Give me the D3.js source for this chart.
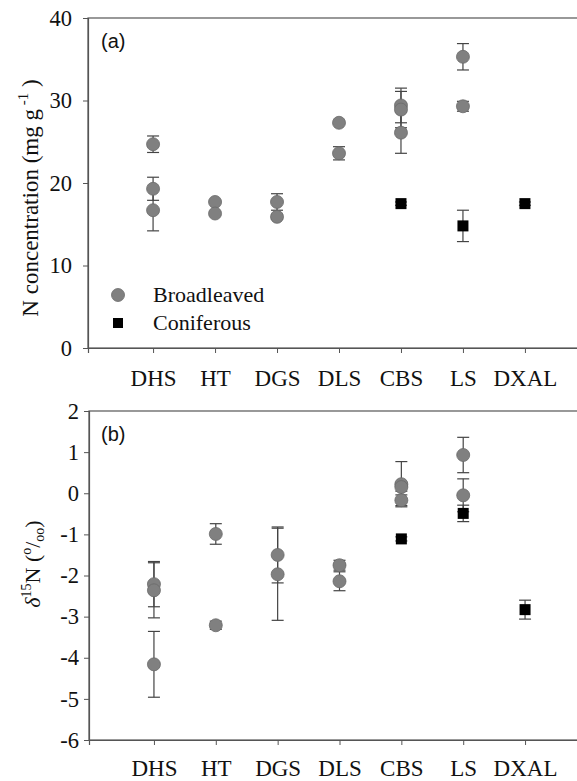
<!DOCTYPE html>
<html><head><meta charset="utf-8">
<script src="https://cdn.jsdelivr.net/npm/d3@7"></script>
<style>
html,body{margin:0;padding:0;background:#fff;}
svg{display:block;}
svg text{font-family:"Liberation Serif","Times New Roman",serif;}
svg text.sans{font-family:"Liberation Sans",Arial,sans-serif;}
</style></head>
<body>
<svg id="chart" width="577" height="781"></svg>
<script>
// ---------- DATA ----------
const categories = ["DHS","HT","DGS","DLS","CBS","LS","DXAL"];

// Panel (a): N concentration (mg g-1)
const nBroadCat = ["DHS","DHS","DHS","HT","HT","DGS","DGS","DLS","DLS","CBS","CBS","CBS","LS","LS"];
const nBroadVal = [24.7,19.3,16.7,17.7,16.3,17.7,15.9,27.3,23.6,29.4,28.9,26.1,35.3,29.3];
const nBroadErr = [1.0,1.4,2.5,0.2,0.2,1.0,0.3,0.2,0.8,2.1,2.2,2.5,1.6,0.6];
const nConCat = ["CBS","LS","DXAL"];
const nConVal = [17.5,14.8,17.5];
const nConErr = [0.2,1.9,0.2];
const nTicks = [0,10,20,30,40];

// Panel (b): delta 15N (per mil)
const dBroadCat = ["DHS","DHS","DHS","HT","HT","DGS","DGS","DLS","DLS","CBS","CBS","CBS","LS","LS"];
const dBroadVal = [-2.21,-2.36,-4.16,-0.99,-3.21,-1.50,-1.97,-1.75,-2.14,0.22,0.15,-0.17,0.93,-0.05];
const dBroadErr = [0.55,0.67,0.80,0.25,0.10,0.68,1.12,0.12,0.23,0.55,0.10,0.13,0.43,0.40];
const dConCat = ["CBS","LS","DXAL"];
const dConVal = [-1.11,-0.49,-2.83];
const dConErr = [0.05,0.20,0.23];
const dTicks = [-6,-5,-4,-3,-2,-1,0,1,2];

// ---------- DRAW ----------
const svg = d3.select("#chart");
const axisColor = "#555";
const fmt = d => String(d); // plain hyphen minus

function panel(opt){
  const g = svg.append("g");
  const x = d3.scalePoint().domain(categories).range([opt.left, 590]).padding(1.05);
  const y = d3.scaleLinear().domain(opt.domain).range([opt.bottom, opt.top]);

  g.append("rect").attr("x",opt.left).attr("y",opt.top)
    .attr("width",590-opt.left).attr("height",opt.bottom-opt.top)
    .attr("fill","none").attr("stroke",axisColor).attr("stroke-width",1.2);

  const ya = g.append("g").attr("transform",`translate(${opt.left},0)`)
    .call(d3.axisLeft(y).tickValues(opt.ticks).tickSize(5).tickPadding(opt.ypad).tickFormat(fmt));
  ya.attr("font-family",null).attr("font-size",null);
  ya.select(".domain").attr("stroke",axisColor).attr("stroke-width",1.2);
  ya.selectAll(".tick line").attr("stroke",axisColor);
  ya.selectAll("text").style("font-size","22.5px").attr("fill","#111");

  const xa = g.append("g").attr("transform",`translate(0,${opt.bottom})`)
    .call(d3.axisBottom(x).tickSize(5).tickPadding(opt.xpad));
  xa.attr("font-family",null).attr("font-size",null);
  xa.select(".domain").attr("stroke",axisColor).attr("stroke-width",1.2);
  xa.selectAll(".tick line").attr("stroke",axisColor);
  xa.selectAll("text").style("font-size","23px").attr("fill","#111");

  g.append("text").attr("class","sans").attr("x",101).attr("y",opt.top+30)
    .style("font-size","20px").attr("fill","#111").text(opt.letter);

  const cap = 6;
  function errBars(cats, vals, errs){
    const eg = g.append("g").attr("stroke","#444").attr("stroke-width",1.2).attr("fill","none");
    cats.forEach((c,i)=>{
      const cx = x(c), y1 = y(vals[i]+errs[i]), y2 = y(vals[i]-errs[i]);
      eg.append("line").attr("x1",cx).attr("x2",cx).attr("y1",y1).attr("y2",y2);
      eg.append("line").attr("x1",cx-cap).attr("x2",cx+cap).attr("y1",y1).attr("y2",y1);
      eg.append("line").attr("x1",cx-cap).attr("x2",cx+cap).attr("y1",y2).attr("y2",y2);
    });
  }
  errBars(opt.bCat, opt.bVal, opt.bErr);
  errBars(opt.cCat, opt.cVal, opt.cErr);

  g.append("g").selectAll("circle").data(opt.bCat.map((c,i)=>({c,v:opt.bVal[i]})))
    .join("circle").attr("cx",d=>x(d.c)).attr("cy",d=>y(d.v)).attr("r",6.5)
    .attr("fill","#808080").attr("stroke","#6a6a6a").attr("stroke-width",0.8);
  const s = 11;
  g.append("g").selectAll("rect").data(opt.cCat.map((c,i)=>({c,v:opt.cVal[i]})))
    .join("rect").attr("x",d=>x(d.c)-s/2).attr("y",d=>y(d.v)-s/2).attr("width",s).attr("height",s)
    .attr("fill","#000");
  return g;
}

panel({left:88, top:18, bottom:348, domain:[0,40], ticks:nTicks, ypad:11, xpad:17, letter:"(a)",
  bCat:nBroadCat, bVal:nBroadVal, bErr:nBroadErr, cCat:nConCat, cVal:nConVal, cErr:nConErr});
panel({left:89, top:411, bottom:740, domain:[-6,2], ticks:dTicks, ypad:5, xpad:15, letter:"(b)",
  bCat:dBroadCat, bVal:dBroadVal, bErr:dBroadErr, cCat:dConCat, cVal:dConVal, cErr:dConErr});

// legend (panel a)
svg.append("circle").attr("cx",118).attr("cy",295).attr("r",6.5).attr("fill","#808080").attr("stroke","#6a6a6a").attr("stroke-width",0.8);
svg.append("rect").attr("x",113).attr("y",318).attr("width",10).attr("height",10).attr("fill","#000");
svg.append("text").attr("x",153).attr("y",302).style("font-size","22px").attr("fill","#111").text("Broadleaved");
svg.append("text").attr("x",153).attr("y",330).style("font-size","22px").attr("fill","#111").text("Coniferous");

// y-axis titles
const ta = svg.append("text").attr("transform","translate(38,198) rotate(-90)").attr("text-anchor","middle")
  .style("font-size","23px").attr("fill","#111");
ta.append("tspan").text("N concentration (mg g");
ta.append("tspan").style("font-size","15px").attr("dy",-10).text(" -1");
ta.append("tspan").attr("dy",10).text(" )");

const tb = svg.append("text").attr("transform","translate(40,564) rotate(-90)").attr("text-anchor","middle")
  .style("font-size","22px").attr("fill","#111");
tb.append("tspan").attr("font-style","italic").text("δ");
tb.append("tspan").style("font-size","14px").attr("dy",-9).text("15");
tb.append("tspan").attr("dy",9).text("N (");
tb.append("tspan").style("font-size","14px").attr("dy",-9).text("o");
tb.append("tspan").attr("dy",9).text("/");
tb.append("tspan").style("font-size","14px").attr("dy",4).text("oo");
tb.append("tspan").attr("dy",-4).text(")");
</script>
</body></html>
